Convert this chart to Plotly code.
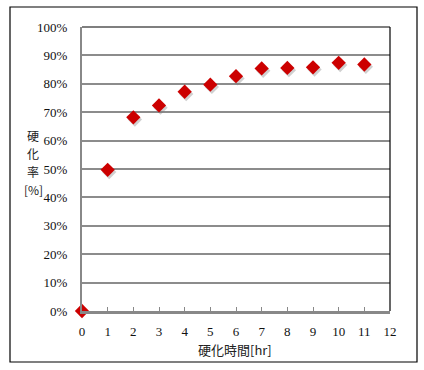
import plotly.graph_objects as go

hours = [0, 1, 2, 3, 4, 5, 6, 7, 8, 9, 10, 11]
cure_rate = [0.0, 0.497, 0.682, 0.724, 0.772, 0.797, 0.827, 0.854, 0.856, 0.858, 0.874, 0.868]
y_ticks = [0, 0.1, 0.2, 0.3, 0.4, 0.5, 0.6, 0.7, 0.8, 0.9, 1.0]
y_labels = ["0%", "10%", "20%", "30%", "40%", "50%", "60%", "70%", "80%", "90%", "100%"]
x_ticks = list(range(0, 13))
y_title_lines = ["硬", "化", "率", "[%]"]
x_title = "硬化時間[hr]"

W, H = 424, 370
L, R, T, B = 82, 390, 27, 311
pw, ph = R - L, B - T

serif = "Liberation Serif"
jp = "Noto Sans CJK JP"

fig = go.Figure()
# soft shadow
fig.add_trace(go.Scatter(
    x=[h + 0.06 for h in hours], y=[v - 0.008 for v in cure_rate],
    mode="markers", cliponaxis=False, hoverinfo="skip",
    marker=dict(symbol="diamond", size=11, color="rgba(120,120,120,0.35)",
                line=dict(width=0)),
    showlegend=False,
))
fig.add_trace(go.Scatter(
    x=hours, y=cure_rate, mode="markers", cliponaxis=False,
    marker=dict(symbol="diamond", size=11, color="#CC0000", line=dict(width=0)),
    showlegend=False,
))

annotations = []
for i, t in enumerate(y_title_lines):
    ypx = 135 + i * 18
    annotations.append(dict(
        text=t, xref="paper", yref="paper",
        x=(33 - L) / pw, y=(B - ypx) / ph, xanchor="center", yanchor="middle",
        showarrow=False, font=dict(family=jp, size=12, color="#222")))
annotations.append(dict(
    text=x_title, xref="paper", yref="paper",
    x=(235 - L) / pw, y=(B - 349) / ph, xanchor="center", yanchor="middle",
    showarrow=False, font=dict(family=jp, size=13, color="#222")))

fig.update_layout(
    width=W, height=H,
    margin=dict(l=L, r=W - R, t=T, b=H - B),
    paper_bgcolor="white", plot_bgcolor="white",
    font=dict(family=serif, size=12, color="#111"),
    xaxis=dict(range=[0, 12], tickvals=x_ticks, ticktext=[str(v) for v in x_ticks],
               showgrid=False, zeroline=False, showline=True, linecolor="#888888",
               linewidth=3, ticks="inside", ticklen=4, tickcolor="#888888", tickwidth=1,
               ticklabelstandoff=6, fixedrange=True,
               tickfont=dict(family=serif, size=13, color="#111")),
    yaxis=dict(range=[0, 1], tickvals=y_ticks, ticktext=y_labels,
               showgrid=True, gridcolor="#8c8c8c", gridwidth=1.5,
               zeroline=False, showline=True, linecolor="#888888", linewidth=2,
               ticks="", ticklabelstandoff=10, fixedrange=True,
               tickfont=dict(family=serif, size=13, color="#111")),
    shapes=[
        dict(type="rect", xref="paper", yref="paper",
             x0=(10 - L) / pw, x1=(417 - L) / pw,
             y0=(B - 362) / ph, y1=(B - 7) / ph,
             line=dict(color="black", width=1.2), fillcolor="rgba(0,0,0,0)", layer="below"),
        dict(type="line", xref="paper", yref="paper", x0=0, x1=1, y0=1, y1=1,
             line=dict(color="black", width=1.2)),
        dict(type="line", xref="paper", yref="paper", x0=1, x1=1, y0=0, y1=1,
             line=dict(color="black", width=1.2)),
    ],
    annotations=annotations,
)

fig.write_html("out.html")
